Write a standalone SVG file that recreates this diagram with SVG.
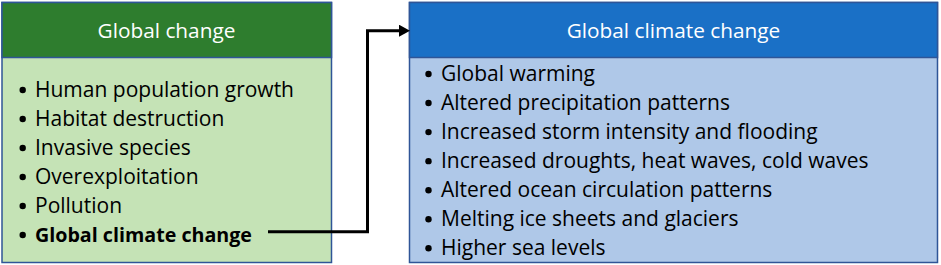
<svg xmlns="http://www.w3.org/2000/svg" width="941" height="265" viewBox="0 0 941 265">
  <defs>
    <style>
      .box { stroke: #2F5597; stroke-width: 1.5; }
      .hdr { font-family: "Open Sans", "Liberation Sans", sans-serif; font-size: 20.8px; fill: #FFFFFF; text-anchor: middle; }
      .item { font-family: "Open Sans", "Liberation Sans", sans-serif; font-size: 21px; fill: #000000; }
      .bul { fill: #000000; }
      .bold { font-weight: bold; font-size: 20px; }
      .conn { fill: none; stroke: #000000; stroke-width: 3; }
    </style>
    <marker id="arrow" markerUnits="userSpaceOnUse" markerWidth="12" markerHeight="14" refX="0" refY="6" orient="auto">
      <polygon points="0,0 11,6 0,12" fill="#000000"/>
    </marker>
  </defs>
  <rect width="941" height="265" fill="#FFFFFF"/>

  <g id="node-global-change">
    <rect class="box" x="2" y="2.5" width="329.5" height="260" fill="#C5E3B6"/>
    <rect class="box" x="2" y="2.5" width="329.5" height="55" fill="#2E7D2E"/>
    <text class="hdr" x="166.5" y="37.7">Global change</text>
    <g class="bul">
      <circle cx="22.7" cy="90" r="3.2"/>
      <circle cx="22.7" cy="119" r="3.2"/>
      <circle cx="22.7" cy="148" r="3.2"/>
      <circle cx="22.7" cy="177" r="3.2"/>
      <circle cx="22.7" cy="206" r="3.2"/>
      <circle cx="22.7" cy="235" r="3.2"/>
    </g>
    <g class="item">
      <text x="35" y="96.7">Human population growth</text>
      <text x="35" y="125.7">Habitat destruction</text>
      <text x="35" y="154.7">Invasive species</text>
      <text x="35" y="183.7">Overexploitation</text>
      <text x="35" y="212.7">Pollution</text>
      <text x="35" y="241.7" class="bold" textLength="217" lengthAdjust="spacingAndGlyphs">Global climate change</text>
    </g>
  </g>

  <g id="node-global-climate-change">
    <rect class="box" x="409.5" y="2.5" width="528" height="260" fill="#AFC8E8"/>
    <rect class="box" x="409.5" y="2.5" width="528" height="55" fill="#1A70C6"/>
    <text class="hdr" x="673.5" y="37.7">Global climate change</text>
    <g class="bul">
      <circle cx="428.5" cy="74" r="3.2"/>
      <circle cx="428.5" cy="103.05" r="3.2"/>
      <circle cx="428.5" cy="132.1" r="3.2"/>
      <circle cx="428.5" cy="161.15" r="3.2"/>
      <circle cx="428.5" cy="190.2" r="3.2"/>
      <circle cx="428.5" cy="219.25" r="3.2"/>
      <circle cx="428.5" cy="248.3" r="3.2"/>
    </g>
    <g class="item">
      <text x="441" y="80.7">Global warming</text>
      <text x="441" y="109.75">Altered precipitation patterns</text>
      <text x="441" y="138.8">Increased storm intensity and flooding</text>
      <text x="441" y="167.85">Increased droughts, heat waves, cold waves</text>
      <text x="441" y="196.9">Altered ocean circulation patterns</text>
      <text x="441" y="225.95">Melting ice sheets and glaciers</text>
      <text x="441" y="255">Higher sea levels</text>
    </g>
  </g>

  <g id="connectors">
    <path class="conn" d="M268,231.7 H367.5 V30.7 H399" marker-end="url(#arrow)"/>
  </g>
</svg>
